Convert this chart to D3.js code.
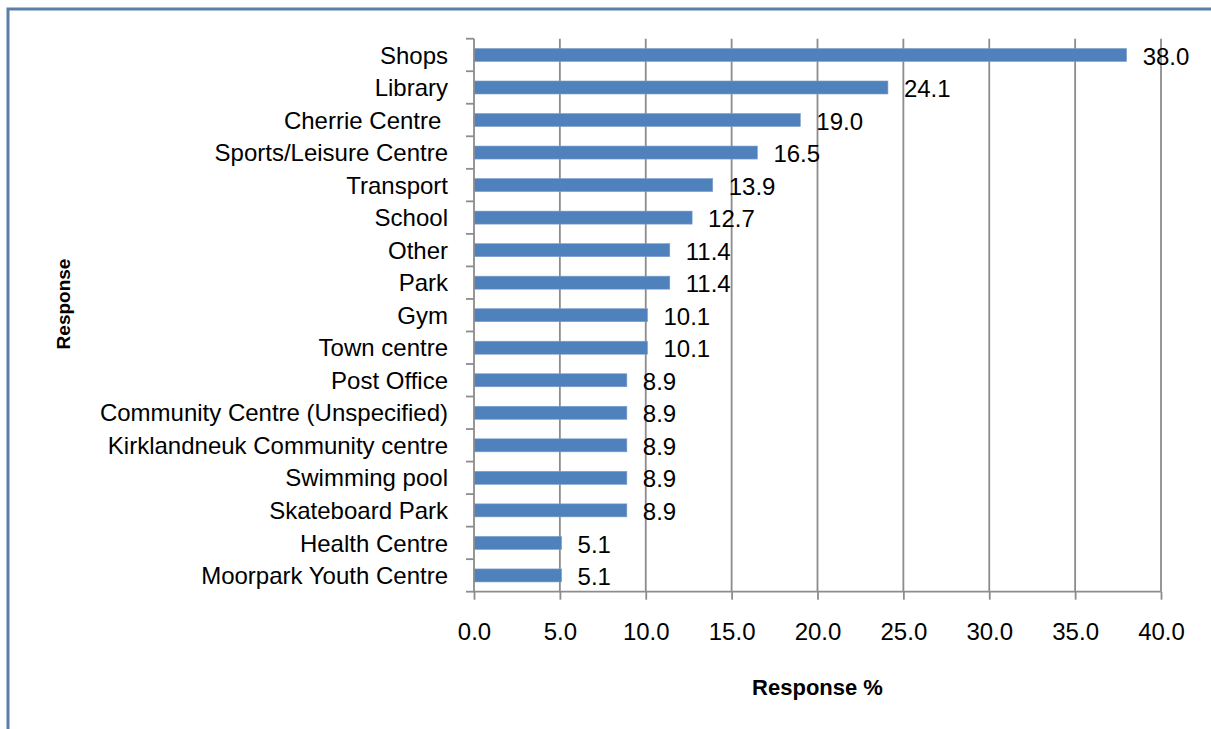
<!DOCTYPE html>
<html>
<head>
<meta charset="utf-8">
<script src="https://cdn.jsdelivr.net/npm/d3@7"></script>
<style>
  html, body { margin: 0; padding: 0; background: #fff; }
  svg { display: block; font-family: "Liberation Sans", Arial, sans-serif; }
</style>
</head>
<body>
<svg id="chart" width="1211" height="729"></svg>
<script>
// Places named by respondents, with the share of responses (%)
const categories = [
  "Shops", "Library", "Cherrie Centre ", "Sports/Leisure Centre", "Transport",
  "School", "Other", "Park", "Gym", "Town centre", "Post Office",
  "Community Centre (Unspecified)", "Kirklandneuk Community centre",
  "Swimming pool", "Skateboard Park", "Health Centre", "Moorpark Youth Centre"
];
const values = [38.0, 24.1, 19.0, 16.5, 13.9, 12.7, 11.4, 11.4, 10.1, 10.1, 8.9, 8.9, 8.9, 8.9, 8.9, 5.1, 5.1];
const xTicks = [0, 5, 10, 15, 20, 25, 30, 35, 40];
const xTitle = "Response %";
const yTitle = "Response";

const data = categories.map((c, i) => ({ name: c, value: values[i] }));

const svg = d3.select("#chart");
const plot = { left: 474, right: 1161, top: 38.7, bottom: 591.7 };
const fontSize = 24;
const gridColor = "#8c8c8c";

// Outer chart frame
svg.append("path")
  .attr("d", "M8,729 L8,9 L1211,9")
  .attr("fill", "none")
  .attr("stroke", "#5b7fa8")
  .attr("stroke-width", 3);

const x = d3.scaleLinear().domain([0, 40]).range([plot.left, plot.right]);
const y = d3.scaleBand().domain(categories).range([plot.top, plot.bottom]).paddingInner(0.6).paddingOuter(0.3);
const yEdges = d3.scaleLinear().domain([0, categories.length]).range([plot.top, plot.bottom]);

// Vertical gridlines
svg.append("g")
  .selectAll("line")
  .data(xTicks.slice(1))
  .join("line")
  .attr("x1", d => x(d)).attr("x2", d => x(d))
  .attr("y1", plot.top).attr("y2", plot.bottom)
  .attr("stroke", gridColor)
  .attr("stroke-width", 1.8);

// Bars
svg.append("g")
  .selectAll("rect")
  .data(data)
  .join("rect")
  .attr("x", x(0))
  .attr("y", d => y(d.name))
  .attr("width", d => x(d.value) - x(0))
  .attr("height", y.bandwidth())
  .attr("fill", "#4f81bd")
  .attr("stroke", "#7d9fcb")
  .attr("stroke-width", 0.6);

// Value labels
svg.append("g")
  .selectAll("text")
  .data(data)
  .join("text")
  .attr("x", d => x(d.value) + 16)
  .attr("y", d => y(d.name) + y.bandwidth() / 2 + 1)
  .attr("dy", "0.36em")
  .attr("font-size", fontSize)
  .attr("fill", "#000")
  .text(d => d.value.toFixed(1));

// X axis: baseline, ticks and labels
const xAxis = d3.axisBottom(x)
  .tickValues(xTicks)
  .tickSize(8)
  .tickPadding(23)
  .tickFormat(d => d.toFixed(1));
const gx = svg.append("g")
  .attr("transform", `translate(0,${plot.bottom})`)
  .call(xAxis);
gx.select(".domain").attr("stroke", gridColor).attr("stroke-width", 1.8).attr("d", `M${plot.left},0H${plot.right}`);
gx.selectAll(".tick line").attr("stroke", gridColor).attr("stroke-width", 1.8);
gx.selectAll(".tick text")
  .attr("font-size", fontSize)
  .attr("font-family", "Liberation Sans, Arial, sans-serif")
  .attr("fill", "#000");

// Y axis: line, tick marks between categories, labels
svg.append("line")
  .attr("x1", plot.left).attr("x2", plot.left)
  .attr("y1", plot.top).attr("y2", plot.bottom)
  .attr("stroke", gridColor).attr("stroke-width", 1.8);
svg.append("g")
  .selectAll("line")
  .data(d3.range(categories.length + 1))
  .join("line")
  .attr("x1", plot.left - 8).attr("x2", plot.left)
  .attr("y1", d => yEdges(d)).attr("y2", d => yEdges(d))
  .attr("stroke", gridColor).attr("stroke-width", 1.8);
svg.append("g")
  .selectAll("text")
  .data(categories)
  .join("text")
  .attr("x", plot.left - 26)
  .attr("y", d => y(d) + y.bandwidth() / 2)
  .attr("dy", "0.36em")
  .attr("text-anchor", "end")
  .attr("font-size", fontSize)
  .attr("fill", "#000")
  .style("white-space", "pre")
  .text(d => d);

// Axis titles
svg.append("text")
  .attr("x", (plot.left + plot.right) / 2)
  .attr("y", 695)
  .attr("text-anchor", "middle")
  .attr("font-size", 22)
  .attr("font-weight", "bold")
  .text(xTitle);
svg.append("text")
  .attr("transform", "translate(70,304) rotate(-90)")
  .attr("text-anchor", "middle")
  .attr("font-size", 19)
  .attr("font-weight", "bold")
  .text(yTitle);
</script>
</body>
</html>
